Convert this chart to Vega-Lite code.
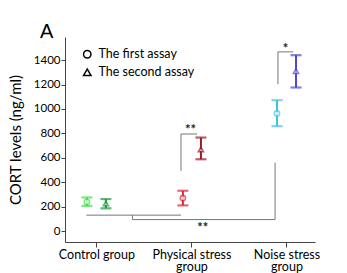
{
  "$schema": "https://vega.github.io/schema/vega-lite/v6.json",
  "autosize": "none",
  "width": 250,
  "height": 205,
  "padding": {"left": 65, "top": 37, "right": 32, "bottom": 31},
  "background": "white",
  "title": {"text": "A", "anchor": "start", "frame": "group", "dx": -25, "offset": -5, "fontSize": 20, "fontWeight": "normal", "font": "Liberation Sans", "color": "black"},
  "config": {
    "view": {"stroke": null},
    "font": "Lato",
    "axis": {"grid": false, "domainColor": "#444", "tickColor": "#444", "labelColor": "black", "titleColor": "black", "labelFont": "Lato", "titleFont": "Lato", "labelOverlap": false},
    "axisY": {"tickCount": 8, "labelOverlap": false, "format": "d"}
  },
  "datasets": {
    "pts": [
      {"key": "c1", "assay": "The first assay", "x": 0.9, "mean": 238, "lo": 206, "hi": 275},
      {"key": "c2", "assay": "The second assay", "x": 1.1, "mean": 225, "lo": 186, "hi": 262},
      {"key": "p1", "assay": "The first assay", "x": 1.91, "mean": 270, "lo": 210, "hi": 330},
      {"key": "p2", "assay": "The second assay", "x": 2.1, "mean": 668, "lo": 588, "hi": 766},
      {"key": "n1", "assay": "The first assay", "x": 2.9, "mean": 963, "lo": 859, "hi": 1072},
      {"key": "n2", "assay": "The second assay", "x": 3.1, "mean": 1310, "lo": 1176, "hi": 1441}
    ],
    "lines": [
      {"x": 0.895, "x2": 1.89, "y": 130, "y2": 130},
      {"x": 1.38, "x2": 1.38, "y": 130, "y2": 94},
      {"x": 1.38, "x2": 2.88, "y": 94, "y2": 94},
      {"x": 2.88, "x2": 2.88, "y": 94, "y2": 560},
      {"x": 1.89, "x2": 1.89, "y": 493, "y2": 795},
      {"x": 1.89, "x2": 2.06, "y": 795, "y2": 795},
      {"x": 2.91, "x2": 2.91, "y": 1203, "y2": 1468},
      {"x": 2.91, "x2": 3.07, "y": 1468, "y2": 1468}
    ],
    "stars": [
      {"x": 2.12, "y": 25, "t": "**"},
      {"x": 1.99, "y": 825, "t": "**"},
      {"x": 2.99, "y": 1495, "t": "*"}
    ]
  },
  "layer": [
    {
      "data": {"name": "lines"},
      "mark": {"type": "rule", "color": "#777", "strokeWidth": 1},
      "encoding": {
        "x": {"field": "x", "type": "quantitative", "scale": {"domain": [0.67, 3.3], "nice": false, "zero": false},
          "axis": {"values": [1, 2, 3], "title": null, "tickSize": 5, "labelFontSize": 12.5, "labelPadding": 1, "labelLineHeight": 12.5, "labelOverlap": false,
            "labelExpr": "datum.value == 1 ? 'Control group' : datum.value == 2 ? ['Physical stress', 'group'] : ['Noise stress', 'group']"}},
        "x2": {"field": "x2"},
        "y": {"field": "y", "type": "quantitative", "scale": {"domain": [-90, 1590], "nice": false, "zero": false},
          "axis": {"title": "CORT levels (ng/ml)", "titleFontSize": 15, "titleFontWeight": "normal", "titlePadding": 10, "tickSize": 4, "labelFontSize": 11.5, "labelPadding": 1}},
        "y2": {"field": "y2"}
      }
    },
    {
      "data": {"name": "pts"},
      "mark": {"type": "rule", "strokeWidth": 2},
      "encoding": {
        "x": {"field": "x", "type": "quantitative"},
        "y": {"field": "lo", "type": "quantitative"},
        "y2": {"field": "hi"},
        "color": {"field": "key", "type": "nominal", "scale": {"domain": ["c1", "c2", "p1", "p2", "n1", "n2"], "range": ["#45e04a", "#1c9a3c", "#d6293c", "#9b1a2b", "#3fc2e2", "#4b4bd2"]}, "legend": null}
      }
    },
    {
      "data": {"name": "pts"},
      "mark": {"type": "tick", "orient": "horizontal", "size": 11, "thickness": 2.2},
      "encoding": {
        "x": {"field": "x", "type": "quantitative"},
        "y": {"field": "lo", "type": "quantitative"},
        "color": {"field": "key", "type": "nominal", "legend": null}
      }
    },
    {
      "data": {"name": "pts"},
      "mark": {"type": "tick", "orient": "horizontal", "size": 11, "thickness": 2.2},
      "encoding": {
        "x": {"field": "x", "type": "quantitative"},
        "y": {"field": "hi", "type": "quantitative"},
        "color": {"field": "key", "type": "nominal", "legend": null}
      }
    },
    {
      "data": {"name": "pts"},
      "mark": {"type": "point", "filled": false, "color": "black", "opacity": 0, "size": 28},
      "encoding": {
        "x": {"field": "x", "type": "quantitative"},
        "y": {"field": "mean", "type": "quantitative"},
        "shape": {"field": "assay", "type": "nominal", "scale": {"domain": ["The first assay", "The second assay"], "range": ["circle", "triangle-up"]},
          "legend": {"title": null, "orient": "none", "legendX": 16, "legendY": 11, "labelFontSize": 12.5, "labelColor": "black", "labelFont": "Lato", "rowPadding": 5, "labelOffset": 5, "symbolSize": 55, "symbolOpacity": 1, "symbolStrokeColor": "black", "symbolStrokeWidth": 1.5}}
      }
    },
    {
      "data": {"name": "pts"},
      "mark": {"type": "point", "strokeWidth": 1.5, "size": 28},
      "encoding": {
        "x": {"field": "x", "type": "quantitative"},
        "y": {"field": "mean", "type": "quantitative"},
        "stroke": {"field": "key", "type": "nominal", "scale": {"domain": ["c1", "c2", "p1", "p2", "n1", "n2"], "range": ["#45e04a", "#1c9a3c", "#d6293c", "#9b1a2b", "#3fc2e2", "#4b4bd2"]}, "legend": null},
        "fill": {"value": "white"},
        "shape": {"field": "assay", "type": "nominal", "legend": null}
      }
    },
    {
      "data": {"name": "stars"},
      "mark": {"type": "text", "fontSize": 13, "fontWeight": "bold", "color": "#222", "baseline": "middle", "align": "center"},
      "encoding": {
        "x": {"field": "x", "type": "quantitative"},
        "y": {"field": "y", "type": "quantitative"},
        "text": {"field": "t"}
      }
    }
  ]
}
